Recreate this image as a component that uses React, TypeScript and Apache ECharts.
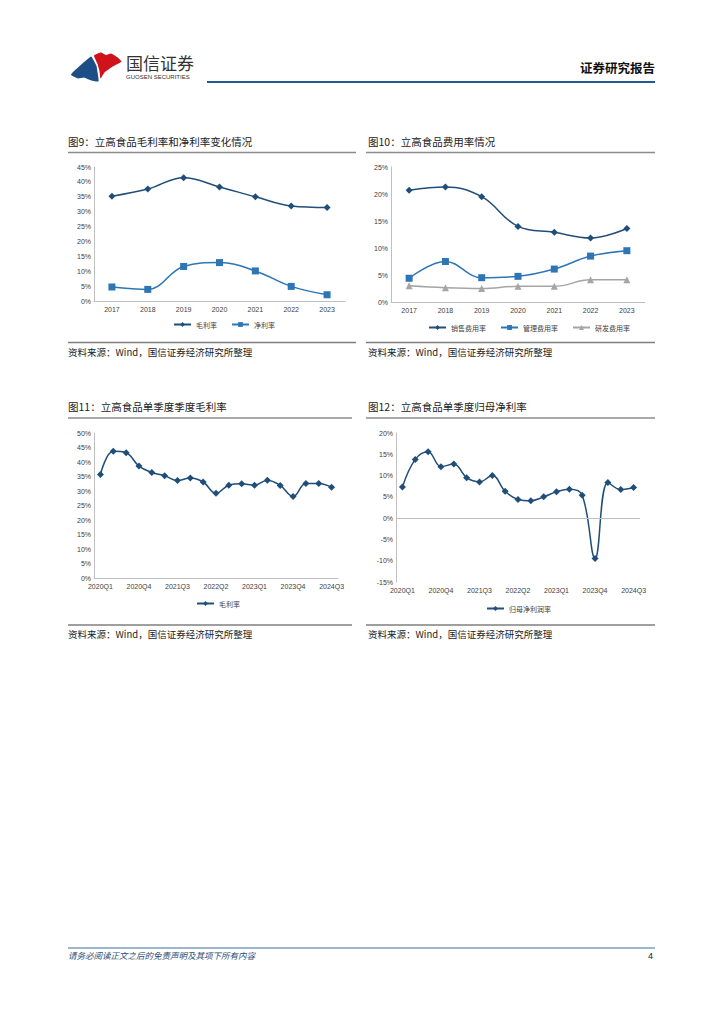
import React, { useEffect, useRef } from "react";
import * as echarts from "echarts";

const years = ["2017", "2018", "2019", "2020", "2021", "2022", "2023"];
const grossMarginAnnual = [35.2, 37.6, 41.4, 38.3, 35.0, 31.9, 31.4];
const netMarginAnnual = [4.7, 3.9, 11.6, 12.9, 10.1, 4.9, 2.1];
const sellingRate = [20.7, 21.3, 19.5, 14.0, 12.9, 11.85, 13.6];
const adminRate = [4.4, 7.5, 4.5, 4.75, 6.1, 8.5, 9.5];
const rdRate = [3.0, 2.65, 2.5, 2.9, 2.9, 4.1, 4.1];

const quarters = [
  "2020Q1", "2020Q2", "2020Q3", "2020Q4",
  "2021Q1", "2021Q2", "2021Q3", "2021Q4",
  "2022Q1", "2022Q2", "2022Q3", "2022Q4",
  "2023Q1", "2023Q2", "2023Q3", "2023Q4",
  "2024Q1", "2024Q2", "2024Q3",
];
const grossMarginQuarterly = [
  35.7, 43.7, 43.2, 38.6, 36.4, 35.3, 33.6, 34.5, 33.1, 29.2,
  32.0, 32.5, 32.0, 33.7, 31.9, 28.1, 32.6, 32.6, 31.3,
];
const netMarginQuarterly = [
  7.3, 13.8, 15.6, 12.1, 12.7, 9.5, 8.5, 10.0, 6.3, 4.4,
  4.1, 5.0, 6.2, 6.8, 5.4, -9.5, 8.4, 6.7, 7.2,
];

const NAVY = "#1f4e79";
const MID = "#2e75b6";
const GRAY = "#a5a5a5";
const CJK = '"Noto Sans CJK SC", "Noto Sans", sans-serif';
const LAT = '"Liberation Sans", Arial, "Noto Sans CJK SC", sans-serif';

function xAx(gridIndex: number, data: string[], interval: number, showLine = true) {
  return {
    type: "category",
    gridIndex,
    data,
    boundaryGap: true,
    axisLine: { show: showLine, lineStyle: { color: "#bfbfbf", width: 1 } },
    axisTick: { show: false },
    axisLabel: {
      interval,
      color: "#404040",
      fontSize: 7,
      fontFamily: LAT,
      margin: 5,
    },
    splitLine: { show: false },
  };
}

function yAx(gridIndex: number, min: number, max: number) {
  return {
    type: "value",
    gridIndex,
    min,
    max,
    interval: 5,
    axisLine: { show: true, lineStyle: { color: "#bfbfbf", width: 1 } },
    axisTick: { show: false },
    axisLabel: {
      formatter: "{value}%",
      color: "#404040",
      fontSize: 7,
      fontFamily: LAT,
      margin: 3,
    },
    splitLine: { show: false },
  };
}

function lineSeries(
  name: string,
  data: number[],
  idx: number,
  color: string,
  symbol: string,
  symbolSize: number,
  extra: any = {}
) {
  return {
    type: "line",
    name,
    data,
    xAxisIndex: idx,
    yAxisIndex: idx,
    smooth: 0.4,
    symbol,
    symbolSize,
    showSymbol: true,
    lineStyle: { color, width: 1.5 },
    itemStyle: { color },
    ...extra,
  };
}

function legendAt(data: string[], left: number, top: number) {
  return {
    data,
    left,
    top,
    itemWidth: 17,
    itemHeight: 6,
    itemGap: 14,
    textStyle: { fontSize: 7, color: "#404040", fontFamily: CJK },
    selectedMode: false,
  };
}

function title(text: string, x: number, y: number) {
  return {
    type: "text",
    left: x,
    top: y,
    style: { text, fontSize: 10.5, fill: "#222", fontFamily: CJK },
  };
}

function hline(x1: number, x2: number, y: number, stroke: string, lineWidth: number) {
  return {
    type: "line",
    shape: { x1, y1: y, x2, y2: y },
    style: { stroke, lineWidth },
  };
}

function source(x: number, y: number) {
  return {
    type: "text",
    left: x,
    top: y,
    style: {
      text: "资料来源：Wind，国信证券经济研究所整理",
      fontSize: 9.5,
      fill: "#222",
      fontFamily: CJK,
    },
  };
}

export default function App() {
  const ref = useRef<HTMLDivElement>(null);

  useEffect(() => {
    if (!ref.current) return;
    const chart = echarts.init(ref.current, undefined, { renderer: "svg" });

    const option: any = {
      animation: false,
      backgroundColor: "#ffffff",
      grid: [
        { left: 94, top: 167, width: 251, height: 134 },
        { left: 391, top: 167, width: 254, height: 135 },
        { left: 94, top: 433, width: 244, height: 145 },
        { left: 396, top: 433, width: 244, height: 149 },
      ],
      xAxis: [
        xAx(0, years, 0),
        xAx(1, years, 0),
        xAx(2, quarters, 2),
        xAx(3, quarters, 2, false),
      ],
      yAxis: [yAx(0, 0, 45), yAx(1, 0, 25), yAx(2, 0, 50), yAx(3, -15, 20)],
      legend: [
        legendAt(["毛利率", "净利率"], 168, 316),
        legendAt(["销售费用率", "管理费用率", "研发费用率"], 423, 319),
        legendAt(["毛利率"], 191, 595),
        legendAt(["归母净利润率"], 481, 600),
      ],
      series: [
        lineSeries("毛利率", grossMarginAnnual, 0, NAVY, "diamond", 7),
        lineSeries("净利率", netMarginAnnual, 0, MID, "rect", 7),
        lineSeries("销售费用率", sellingRate, 1, NAVY, "diamond", 7),
        lineSeries("管理费用率", adminRate, 1, MID, "rect", 7),
        lineSeries("研发费用率", rdRate, 1, GRAY, "triangle", 7),
        lineSeries("毛利率", grossMarginQuarterly, 2, NAVY, "diamond", 7),
        lineSeries("归母净利润率", netMarginQuarterly, 3, NAVY, "diamond", 7, {
          markLine: {
            silent: true,
            symbol: ["none", "none"],
            label: { show: false },
            lineStyle: { color: "#bfbfbf", type: "solid", width: 1 },
            data: [{ yAxis: 0 }],
          },
        }),
      ],
      graphic: [
        // logo
        {
          type: "polygon",
          shape: {
            points: [
              [71, 74.5], [91, 56.5], [94, 61], [96.5, 66], [97.5, 72], [98.5, 81.5], [90, 80], [84, 77.5], [78, 78.5],
            ],
            smooth: 0.15,
          },
          style: { fill: "#1d4f86" },
        },
        {
          type: "polygon",
          shape: {
            points: [
              [94, 55.5], [101, 52.5], [106, 55], [111, 53.5], [117, 57], [121.5, 61.5], [112, 67], [104.5, 72.5], [100.5, 78.5], [99.5, 71], [97.5, 64],
            ],
            smooth: 0.15,
          },
          style: { fill: "#d0121b" },
        },
        {
          type: "text",
          left: 126,
          top: 54,
          style: { text: "国信证券", fontSize: 17, fill: "#333", fontFamily: CJK },
        },
        {
          type: "text",
          left: 126,
          top: 73.5,
          style: { text: "GUOSEN SECURITIES", fontSize: 6, fill: "#333", fontFamily: LAT },
        },
        hline(207, 655, 82, "#1f5a96", 2),
        {
          type: "text",
          right: 724 - 655,
          top: 61,
          style: { text: "证券研究报告", fontSize: 12.5, fontWeight: "bold", fill: "#111", fontFamily: CJK },
        },
        // chart titles
        title("图9：立高食品毛利率和净利率变化情况", 68, 136),
        title("图10：立高食品费用率情况", 368, 136),
        title("图11：立高食品单季度季度毛利率", 68, 401),
        title("图12：立高食品单季度归母净利率", 368, 401),
        hline(68, 356, 152.5, "#8c8c8c", 1.5),
        hline(366, 655, 152.5, "#8c8c8c", 1.5),
        hline(68, 352, 418, "#8c8c8c", 1.5),
        hline(366, 655, 418, "#8c8c8c", 1.5),
        // source lines
        hline(68, 356, 342.5, "#7f7f7f", 1.5),
        hline(366, 655, 342.5, "#7f7f7f", 1.5),
        hline(68, 352, 625, "#7f7f7f", 1.5),
        hline(366, 655, 625, "#7f7f7f", 1.5),
        source(68, 347),
        source(368, 347),
        source(68, 629),
        source(368, 629),
        // footer
        hline(68, 655, 948, "#3d6e9e", 1),
        {
          type: "text",
          left: 68,
          top: 951,
          style: {
            text: "请务必阅读正文之后的免责声明及其项下所有内容",
            fontSize: 8.5,
            fontStyle: "italic",
            fill: "#1f4e79",
            fontFamily: CJK,
          },
        },
        {
          type: "text",
          left: 648,
          top: 951,
          style: { text: "4", fontSize: 9, fill: "#222", fontFamily: LAT },
        },
      ],
    };

    chart.setOption(option);
    return () => chart.dispose();
  }, []);

  return (
    <div
      ref={ref}
      style={{ position: "fixed", left: 0, top: 0, width: 724, height: 1024, background: "#fff" }}
    />
  );
}
